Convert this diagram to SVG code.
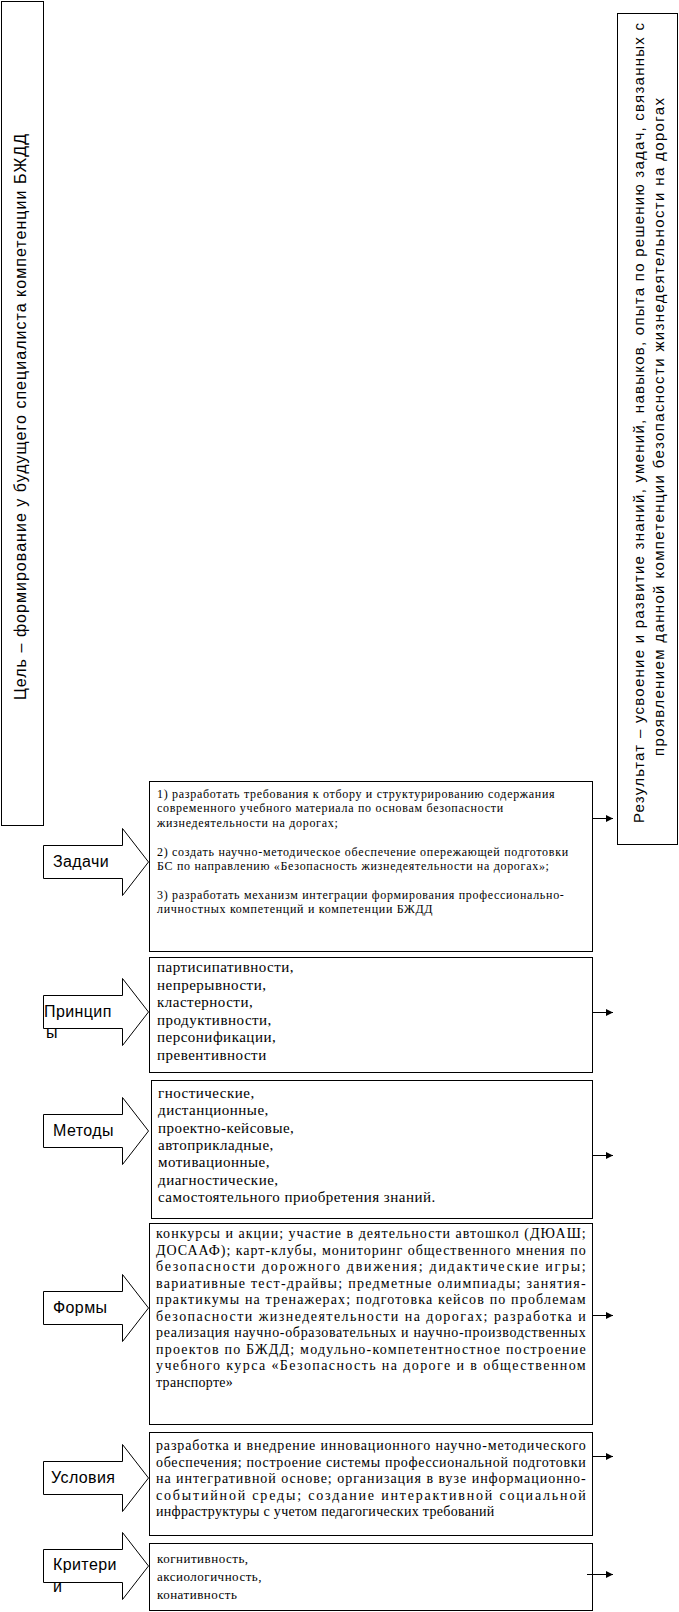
<svg xmlns="http://www.w3.org/2000/svg" width="679" height="1612" viewBox="0 0 679 1612">
<style>
.box{fill:#fff;stroke:#000;stroke-width:1}
.barrow{fill:#fff;stroke:#000;stroke-width:1}
.sans{font-family:"Liberation Sans",Arial,sans-serif;fill:#000}
.rot{font-size:15px}
.lbl{font-size:16px;letter-spacing:0.4px}
.serif{font-family:"Liberation Serif","Times New Roman",serif;fill:#000}
.t12{font-size:12px;letter-spacing:0.7px}
.t15{font-size:15px;letter-spacing:0.5px}
.t14{font-size:14px;letter-spacing:0.3px}
.t13{font-size:13px;letter-spacing:0.5px}
.conn{stroke:#000;stroke-width:1;fill:none}
</style>
<defs>
<marker id="ah" markerWidth="8" markerHeight="8" refX="7" refY="4" orient="auto" markerUnits="userSpaceOnUse">
<path d="M0,0.5 L7,4 L0,7.5 Z" fill="#000"/>
</marker>
</defs>

<g id="goal">
<rect class="box" x="1.5" y="1.5" width="42" height="824"/>
<text class="sans" font-size="16" transform="translate(26,700) rotate(-90)" textLength="566" lengthAdjust="spacing">Цель – формирование у будущего специалиста компетенции БЖДД</text>
</g>

<g id="result">
<rect class="box" x="617.5" y="13.5" width="60" height="831"/>
<text class="sans rot" transform="translate(644,823) rotate(-90)" textLength="800" lengthAdjust="spacing">Результат – усвоение и развитие знаний, умений, навыков, опыта по решению задач, связанных с</text>
<text class="sans rot" transform="translate(664,756) rotate(-90)" textLength="658" lengthAdjust="spacing">проявлением данной компетенции безопасности жизнедеятельности на дорогах</text>
</g>

<g id="tasks">
<polygon class="barrow" points="43.5,845.5 122.5,845.5 122.5,828.5 148.5,862 122.5,895.5 122.5,878.5 43.5,878.5"/>
<text class="sans lbl" x="53" y="867">Задачи</text>
<rect class="box" x="149.5" y="781.5" width="443" height="170"/>
<text class="serif t12" x="157">
<tspan x="157" y="798">1) разработать требования к отбору и структурированию содержания</tspan>
<tspan x="157" y="812.4">современного учебного материала по основам безопасности</tspan>
<tspan x="157" y="826.8">жизнедеятельности на дорогах;</tspan>
<tspan x="157" y="855.6">2) создать научно-методическое обеспечение опережающей подготовки</tspan>
<tspan x="157" y="870">БС по направлению «Безопасность жизнедеятельности на дорогах»;</tspan>
<tspan x="157" y="898.8">3) разработать механизм интеграции формирования профессионально-</tspan>
<tspan x="157" y="913.2">личностных компетенций и компетенции БЖДД</tspan>
</text>
</g>

<g id="principles">
<polygon class="barrow" points="43.5,995.5 122.5,995.5 122.5,978.5 148.5,1012 122.5,1045.5 122.5,1028.5 43.5,1028.5"/>
<text class="sans lbl" x="44" y="1017">Принцип</text>
<text class="sans lbl" x="46" y="1038">ы</text>
<rect class="box" x="149.5" y="957.5" width="443" height="115"/>
<text class="serif t15">
<tspan x="157" y="972">партисипативности,</tspan>
<tspan x="157" y="989.5">непрерывности,</tspan>
<tspan x="157" y="1007">кластерности,</tspan>
<tspan x="157" y="1024.5">продуктивности,</tspan>
<tspan x="157" y="1042">персонификации,</tspan>
<tspan x="157" y="1059.5">превентивности</tspan>
</text>
</g>

<g id="methods">
<polygon class="barrow" points="43.5,1114.5 122.5,1114.5 122.5,1097.5 148.5,1131 122.5,1164.5 122.5,1147.5 43.5,1147.5"/>
<text class="sans lbl" x="53" y="1136">Методы</text>
<rect class="box" x="151.5" y="1080.5" width="441" height="138"/>
<text class="serif t15">
<tspan x="158" y="1098">гностические,</tspan>
<tspan x="158" y="1115.3">дистанционные,</tspan>
<tspan x="158" y="1132.6">проектно-кейсовые,</tspan>
<tspan x="158" y="1150">автоприкладные,</tspan>
<tspan x="158" y="1167.2">мотивационные,</tspan>
<tspan x="158" y="1184.5">диагностические,</tspan>
<tspan x="158" y="1201.8">самостоятельного приобретения знаний.</tspan>
</text>
</g>

<g id="forms">
<polygon class="barrow" points="43.5,1291.5 122.5,1291.5 122.5,1274.5 148.5,1308 122.5,1341.5 122.5,1324.5 43.5,1324.5"/>
<text class="sans lbl" x="53" y="1313">Формы</text>
<rect class="box" x="149.5" y="1223.5" width="443" height="201"/>
<g class="serif t14">
<text x="156" y="1238" textLength="430" lengthAdjust="spacing">конкурсы и акции; участие в деятельности автошкол (ДЮАШ;</text>
<text x="156" y="1254.5" textLength="430" lengthAdjust="spacing">ДОСААФ); карт-клубы, мониторинг общественного мнения по</text>
<text x="156" y="1271" textLength="430" lengthAdjust="spacing">безопасности дорожного движения; дидактические игры;</text>
<text x="156" y="1287.5" textLength="430" lengthAdjust="spacing">вариативные тест-драйвы; предметные олимпиады; занятия-</text>
<text x="156" y="1304" textLength="430" lengthAdjust="spacing">практикумы на тренажерах; подготовка кейсов по проблемам</text>
<text x="156" y="1320.5" textLength="430" lengthAdjust="spacing">безопасности жизнедеятельности на дорогах; разработка и</text>
<text x="156" y="1337" textLength="430" lengthAdjust="spacing">реализация научно-образовательных и научно-производственных</text>
<text x="156" y="1353.5" textLength="430" lengthAdjust="spacing">проектов по БЖДД; модульно-компетентностное построение</text>
<text x="156" y="1370" textLength="430" lengthAdjust="spacing">учебного курса «Безопасность на дороге и в общественном</text>
<text x="156" y="1386.5">транспорте»</text>
</g>
</g>

<g id="conditions">
<polygon class="barrow" points="43.5,1461.5 122.5,1461.5 122.5,1444.5 148.5,1478 122.5,1511.5 122.5,1494.5 43.5,1494.5"/>
<text class="sans lbl" x="51" y="1483">Условия</text>
<rect class="box" x="149.5" y="1432.5" width="443" height="103"/>
<g class="serif t14">
<text x="156" y="1450" textLength="430" lengthAdjust="spacing">разработка и внедрение инновационного научно-методического</text>
<text x="156" y="1466.5" textLength="430" lengthAdjust="spacing">обеспечения; построение системы профессиональной подготовки</text>
<text x="156" y="1483" textLength="430" lengthAdjust="spacing">на интегративной основе; организация в вузе информационно-</text>
<text x="156" y="1499.5" textLength="430" lengthAdjust="spacing">событийной среды; создание интерактивной социальной</text>
<text x="156" y="1516">инфраструктуры с учетом педагогических требований</text>
</g>
</g>

<g id="criteria">
<polygon class="barrow" points="43.5,1549.5 122.5,1549.5 122.5,1532.5 148.5,1566 122.5,1599.5 122.5,1582.5 43.5,1582.5"/>
<text class="sans lbl" x="53" y="1570">Критери</text>
<text class="sans lbl" x="53" y="1592">и</text>
<rect class="box" x="149.5" y="1543.5" width="443" height="67"/>
<text class="serif t13">
<tspan x="157" y="1563">когнитивность,</tspan>
<tspan x="157" y="1581">аксиологичность,</tspan>
<tspan x="157" y="1599">конативность</tspan>
</text>
</g>

<g id="connectors">
<line class="conn" x1="592.5" y1="818.5" x2="613" y2="818.5" marker-end="url(#ah)"/>
<line class="conn" x1="592.5" y1="1012.5" x2="613" y2="1012.5" marker-end="url(#ah)"/>
<line class="conn" x1="592.5" y1="1155.5" x2="613" y2="1155.5" marker-end="url(#ah)"/>
<line class="conn" x1="592.5" y1="1315.5" x2="613" y2="1315.5" marker-end="url(#ah)"/>
<line class="conn" x1="592.5" y1="1456.5" x2="613" y2="1456.5" marker-end="url(#ah)"/>
<line class="conn" x1="587" y1="1574.5" x2="613" y2="1574.5" marker-end="url(#ah)"/>
</g>
</svg>
